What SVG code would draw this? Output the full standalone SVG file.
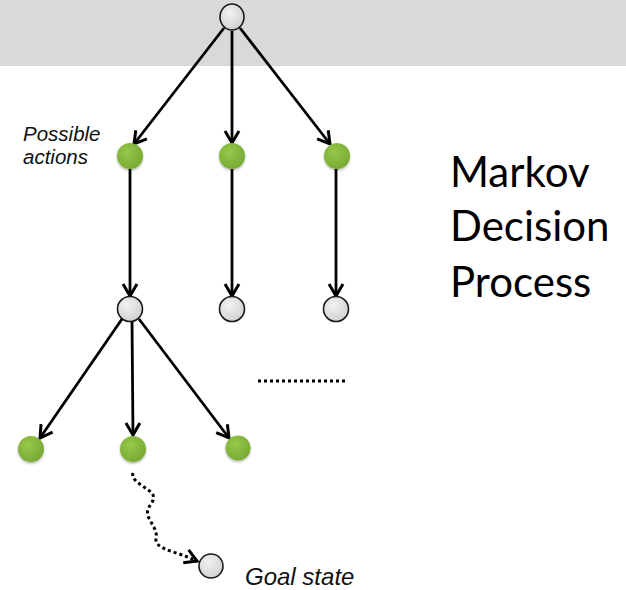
<svg xmlns="http://www.w3.org/2000/svg" width="626" height="590" viewBox="0 0 626 590">
  <style>
    .edge { stroke: #000; stroke-width: 2.8; fill: none; }
    .dots { stroke: #000; stroke-width: 3; fill: none; stroke-dasharray: 3 3; }
    .state { fill: url(#grayFill); stroke: #1a1a1a; stroke-width: 1.6; }
    .action { fill: url(#greenFill); stroke: none; filter: url(#soft); }
    .lbl { font-family: "Liberation Sans", Arial, sans-serif; font-style: italic; fill: #111; }
    .title { font-family: Lato, "Open Sans", sans-serif; font-size: 42px; fill: #000; }
  </style>
  <defs>
    <radialGradient id="grayFill" cx="0.4" cy="0.35" r="0.7">
      <stop offset="0" stop-color="#f2f2f2"/>
      <stop offset="1" stop-color="#cfcfcf"/>
    </radialGradient>
    <radialGradient id="greenFill" cx="0.4" cy="0.35" r="0.7">
      <stop offset="0" stop-color="#97c84a"/>
      <stop offset="1" stop-color="#76a832"/>
    </radialGradient>
    <filter id="soft" x="-30%" y="-30%" width="160%" height="160%">
      <feDropShadow dx="0" dy="1.5" stdDeviation="1.2" flood-color="#000" flood-opacity="0.3"/>
    </filter>
    <marker id="arrow" markerUnits="userSpaceOnUse" markerWidth="18" markerHeight="18" viewBox="0 0 18 18" refX="15" refY="9" orient="auto">
      <path d="M3,2 L15,9 L3,16" fill="none" stroke="#000" stroke-width="3" stroke-linejoin="miter"/>
    </marker>
  </defs>

  <!-- header band -->
  <rect x="0" y="0" width="626" height="66" fill="#d9d9d9"/>

  <!-- connectors -->
  <g id="connectors">
    <line class="edge" x1="224" y1="28" x2="134" y2="144" marker-end="url(#arrow)"/>
    <line class="edge" x1="232" y1="31" x2="232" y2="143" marker-end="url(#arrow)"/>
    <line class="edge" x1="240" y1="28" x2="330" y2="144" marker-end="url(#arrow)"/>
    <line class="edge" x1="130" y1="169" x2="130" y2="296" marker-end="url(#arrow)"/>
    <line class="edge" x1="232" y1="169" x2="232" y2="296" marker-end="url(#arrow)"/>
    <line class="edge" x1="336" y1="169" x2="336" y2="296" marker-end="url(#arrow)"/>
    <line class="edge" x1="122" y1="319" x2="40" y2="438" marker-end="url(#arrow)"/>
    <line class="edge" x1="132" y1="321" x2="133" y2="435" marker-end="url(#arrow)"/>
    <line class="edge" x1="139" y1="319" x2="229" y2="438" marker-end="url(#arrow)"/>
    <path class="dots" d="M133,473 C130,482 150,488 153,495 C156,503 145,506 148,516 C151,524 158,530 156,539 C155,548 172,551 185,556 L197,561" marker-end="url(#arrow)"/>
    <line class="dots" x1="258" y1="381" x2="348" y2="381"/>
  </g>

  <!-- root state -->
  <g id="s0"><ellipse class="state" cx="232" cy="17" rx="12" ry="13"/></g>

  <!-- first actions -->
  <g id="a1"><circle class="action" cx="130" cy="156" r="13"/></g>
  <g id="a2"><circle class="action" cx="232" cy="156" r="13"/></g>
  <g id="a3"><circle class="action" cx="337" cy="156" r="13"/></g>

  <!-- next states -->
  <g id="s1"><circle class="state" cx="130" cy="309" r="12.5"/></g>
  <g id="s2"><circle class="state" cx="232" cy="309" r="12.5"/></g>
  <g id="s3"><circle class="state" cx="336" cy="309" r="12.5"/></g>

  <!-- second actions -->
  <g id="a4"><circle class="action" cx="31" cy="449" r="13"/></g>
  <g id="a5"><circle class="action" cx="133" cy="449" r="13"/></g>
  <g id="a6"><circle class="action" cx="238" cy="448" r="12.5"/></g>

  <!-- goal -->
  <g id="goal"><circle class="state" cx="211" cy="566" r="12"/></g>

  <!-- labels -->
  <g id="labels">
    <text class="lbl" x="23" y="141" font-size="20.5">Possible</text>
    <text class="lbl" x="23" y="164" font-size="20.5">actions</text>
    <text class="lbl" x="245" y="585" font-size="24">Goal state</text>
    <text class="title" x="450" y="187">Markov</text>
    <text class="title" x="450" y="241">Decision</text>
    <text class="title" x="450" y="297">Process</text>
  </g>
</svg>
